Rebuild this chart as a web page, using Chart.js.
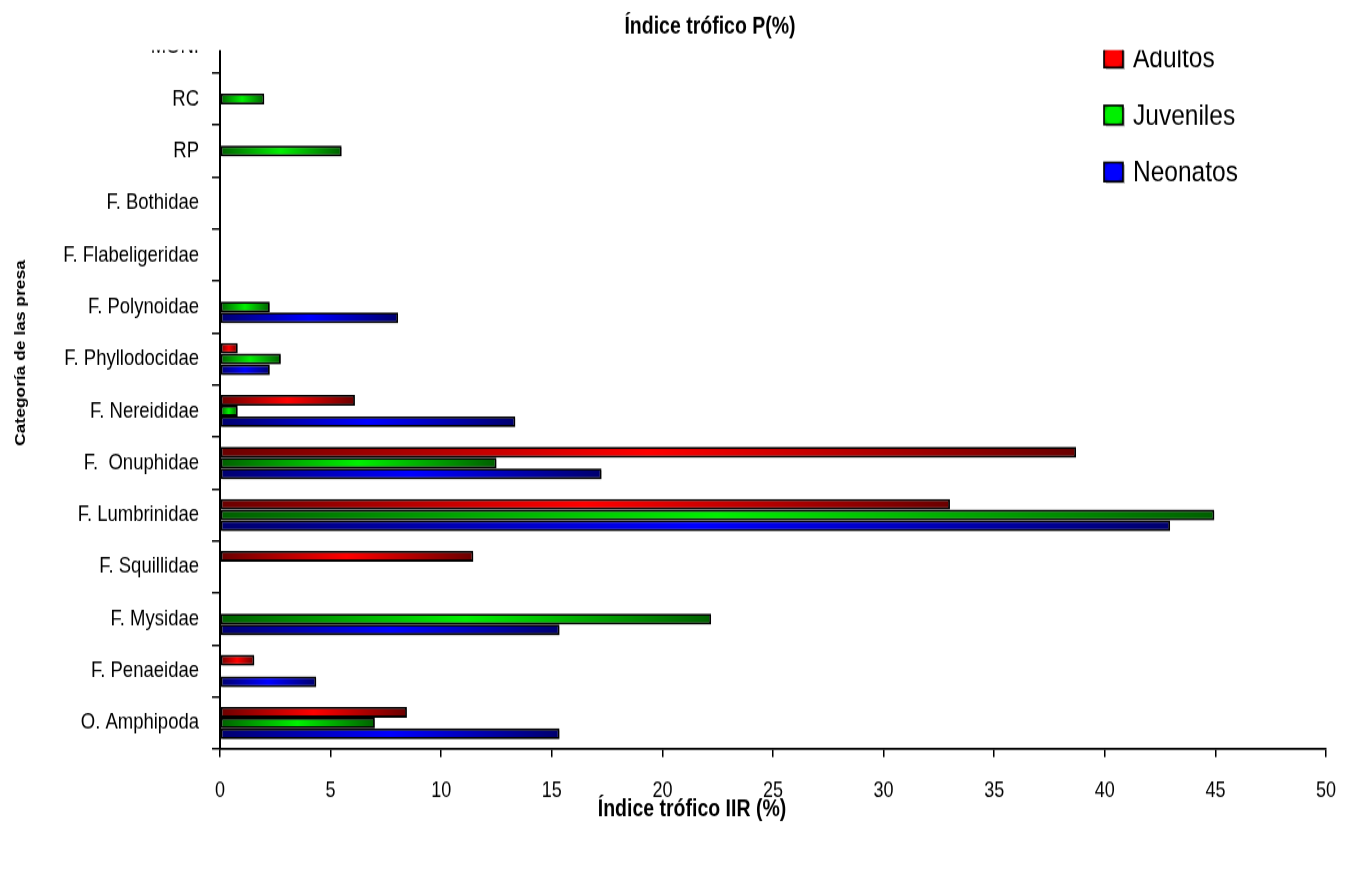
<!DOCTYPE html>
<html>
<head>
<meta charset="utf-8">
<script src="https://cdn.jsdelivr.net/npm/chart.js@4.4.1/dist/chart.umd.min.js"></script>
<style>
  html, body { margin: 0; padding: 0; background: #ffffff; overflow: hidden; }
  /* the drawing buffer is shorter than the box it fills, so the figure is stretched vertically */
  #chart { display: block; width: 1349px !important; height: 881px !important; }
</style>
</head>
<body>
<canvas id="chart" width="1349" height="734"></canvas>
<script>
// Prey categories, listed from the top of the axis to the bottom
const categories = [
  'MONI', 'RC', 'RP', 'F. Bothidae', 'F. Flabeligeridae', 'F. Polynoidae',
  'F. Phyllodocidae', 'F. Nereididae', 'F.  Onuphidae', 'F. Lumbrinidae',
  'F. Squillidae', 'F. Mysidae', 'F. Penaeidae', 'O. Amphipoda'
];

// IIR (%) per category; null = prey not found in that group
const adultos   = [null, null, null, null, null, null, 0.8, 6.1, 38.7, 33.0, 11.45, null, 1.55, 8.45];
const juveniles = [null, 2.0, 5.5, null, null, 2.25, 2.75, 0.8, 12.5, 44.95, null, 22.2, null, 7.0];
const neonatos  = [null, null, null, null, null, 8.05, 2.25, 13.35, 17.25, 42.95, null, 15.35, 4.35, 15.35];

const seriesNames = ['Adultos', 'Juveniles', 'Neonatos'];
const xTickValues = [0, 5, 10, 15, 20, 25, 30, 35, 40, 45, 50];

const chartTitle = 'Índice trófico P(%)';
const xAxisTitle = 'Índice trófico IIR (%)';
const yAxisTitle = 'Categoría de las presa';

// Colour ramps: [dark, bright]
const ramps = [
  ['#6a0000', '#ff0000'],
  ['#006000', '#00f000'],
  ['#00006e', '#0000ff']
];

const FAMILY = '"Liberation Sans", Arial, Helvetica, sans-serif';

// vertical stretch between drawing buffer and displayed box
const canvasEl = document.getElementById('chart');
const S = 881 / canvasEl.height;
const Y = v => v / S;

// Horizontal dark-bright-dark fill along each bar
function barFill(seriesIndex) {
  return function (ctx) {
    const chart = ctx.chart;
    const v = ctx.raw;
    const [dark, bright] = ramps[seriesIndex];
    const xs = chart.scales && chart.scales.x;
    if (v == null || !xs || !chart.chartArea) return bright;
    const x0 = xs.getPixelForValue(0);
    const x1 = xs.getPixelForValue(v);
    if (Math.abs(x1 - x0) < 1) return bright;
    const g = chart.ctx.createLinearGradient(x0, 0, x1, 0);
    g.addColorStop(0, dark);
    g.addColorStop(0.5, bright);
    g.addColorStop(1, dark);
    return g;
  };
}

const CLIP_TOP = Y(50);

const decorations = {
  id: 'decorations',
  beforeDraw(chart) {
    const ctx = chart.ctx;
    ctx.save();
    ctx.beginPath();
    ctx.rect(0, CLIP_TOP, chart.width, chart.height - CLIP_TOP);
    ctx.clip();
  },
  beforeDatasetsDraw(chart) {
    const ctx = chart.ctx;
    ctx.save();
    ctx.shadowColor = 'rgba(0,0,0,0.28)';
    ctx.shadowOffsetX = 2;
    ctx.shadowOffsetY = 1.7;
    ctx.shadowBlur = 0;
  },
  afterDatasetsDraw(chart) {
    const ctx = chart.ctx;
    ctx.restore();
    // legend in the upper right of the plot
    const lx = 1104, ly = Y(58), step = Y(57), w = 19, h = Y(19);
    ctx.save();
    ctx.font = '24.5px ' + FAMILY;
    ctx.textBaseline = 'middle';
    ctx.textAlign = 'left';
    seriesNames.forEach((name, i) => {
      const cy = ly + i * step;
      const [dark, bright] = ramps[i];
      const g = ctx.createRadialGradient(lx + w / 2, cy, 0, lx + w / 2, cy, w * 0.72);
      g.addColorStop(0, bright);
      g.addColorStop(0.55, bright);
      g.addColorStop(1, dark);
      ctx.fillStyle = 'rgba(0,0,0,0.25)';
      ctx.fillRect(lx + 2, cy - h / 2 + 1.7, w, h);
      ctx.fillStyle = g;
      ctx.fillRect(lx, cy - h / 2, w, h);
      ctx.lineWidth = 1.6;
      ctx.strokeStyle = '#000';
      ctx.strokeRect(lx, cy - h / 2, w, h);
      ctx.fillStyle = '#000';
      ctx.fillText(name, 1133, cy + 1);
    });
    ctx.restore();
  },
  afterDraw(chart) {
    const ctx = chart.ctx;
    ctx.restore();
    ctx.save();
    ctx.fillStyle = '#000';
    ctx.textAlign = 'center';
    ctx.textBaseline = 'middle';
    ctx.font = 'bold 19.5px ' + FAMILY;
    ctx.fillText(chartTitle, 710, Y(27));
    ctx.fillText(xAxisTitle, 692, Y(810));
    ctx.translate(21, Y(353));
    ctx.rotate(-Math.PI / 2);
    ctx.font = 'bold 14.5px ' + FAMILY;
    ctx.fillText(yAxisTitle, 0, 0);
    ctx.restore();
  }
};

const seriesValues = [adultos, juveniles, neonatos];

new Chart(canvasEl, {
  type: 'bar',
  data: {
    labels: categories,
    datasets: seriesValues.map((vals, i) => ({
      label: seriesNames[i],
      data: vals,
      backgroundColor: barFill(i),
      borderColor: '#000000',
      borderWidth: 1.8,
      borderSkipped: false,
      barPercentage: 1,
      categoryPercentage: 0.62
    }))
  },
  options: {
    indexAxis: 'y',
    responsive: false,
    maintainAspectRatio: false,
    animation: false,
    devicePixelRatio: 1,
    layout: { autoPadding: false, padding: { top: Y(21), right: 23, left: 0, bottom: 0 } },
    plugins: {
      legend: { display: false },
      title: { display: false },
      tooltip: { enabled: false }
    },
    scales: {
      x: {
        type: 'linear',
        min: 0,
        max: 50,
        afterFit(scale) {
          scale.height = canvasEl.height - Y(749);
          scale.paddingLeft = 0;
          scale.paddingRight = 0;
        },
        afterBuildTicks(scale) { scale.ticks = xTickValues.map(v => ({ value: v })); },
        ticks: {
          color: '#000',
          font: { family: FAMILY, size: 18 },
          padding: 17.5,
          maxRotation: 0
        },
        grid: {
          drawOnChartArea: false,
          drawTicks: true,
          tickLength: Y(8),
          color: '#000',
          lineWidth: 1.5
        },
        border: { color: '#000', width: 1.8 }
      },
      y: {
        type: 'category',
        afterFit(scale) {
          scale.width = 220;
          scale.paddingTop = 0;
          scale.paddingBottom = 0;
        },
        ticks: {
          color: '#000',
          font: { family: FAMILY, size: 18.5 },
          padding: 13,
          autoSkip: false
        },
        grid: {
          offset: true,
          drawOnChartArea: false,
          drawTicks: true,
          tickLength: 8,
          color: '#000',
          lineWidth: 1.5
        },
        border: { color: '#000', width: 2 }
      }
    }
  },
  plugins: [decorations]
});
</script>
</body>
</html>
